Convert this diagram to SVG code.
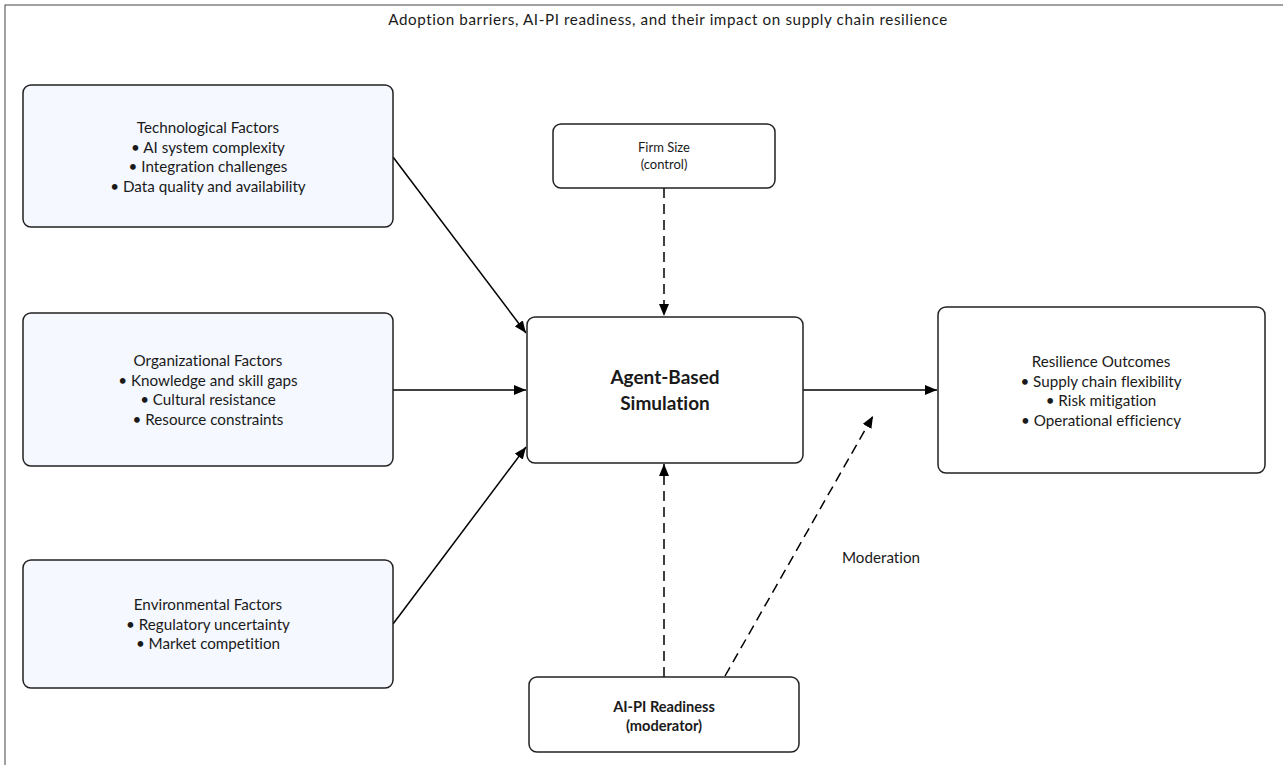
<svg xmlns="http://www.w3.org/2000/svg" width="1283" height="765" viewBox="0 0 1283 765">
<defs>
<style>
.t{font-family:Lato,"Open Sans","Liberation Sans",sans-serif;fill:#1a1a1a;text-anchor:middle;font-variant-ligatures:none;font-feature-settings:"liga" 0}
.n{font-size:15.2px}
.s{font-size:13px}
.b{font-weight:bold}
.box{stroke:#222;stroke-width:1.5;fill:#fff}
.lb{fill:#F5F8FF}
.c{stroke:#000;stroke-width:1.5;fill:none}
.d{stroke-dasharray:10 6}
</style>
<marker id="ah" viewBox="0 0 12 10" refX="12" refY="5" markerWidth="12" markerHeight="10" markerUnits="userSpaceOnUse" orient="auto">
<path d="M0,0 L12,5 L0,10 Z" fill="#000"/>
</marker>
</defs>
<rect x="0" y="0" width="1283" height="765" fill="#fff"/>
<rect x="5" y="5" width="1300" height="800" fill="none" stroke="#444" stroke-width="1"/>
<text class="t n" x="668" y="25" letter-spacing="0.6">Adoption barriers, AI-PI readiness, and their impact on supply chain resilience</text>

<g id="connectors">
<line class="c" x1="393" y1="157" x2="526" y2="333" marker-end="url(#ah)"/>
<line class="c" x1="393" y1="390" x2="526" y2="390" marker-end="url(#ah)"/>
<line class="c" x1="393" y1="624" x2="526" y2="447" marker-end="url(#ah)"/>
<line class="c d" x1="664" y1="188" x2="664" y2="316" marker-end="url(#ah)"/>
<line class="c" x1="803" y1="390" x2="937" y2="390" marker-end="url(#ah)"/>
<line class="c d" x1="664" y1="677" x2="664" y2="464" marker-end="url(#ah)"/>
<line class="c d" x1="725" y1="676" x2="873" y2="416" marker-end="url(#ah)"/>
<text class="t n" x="881" y="563">Moderation</text>
</g>

<g id="tech">
<rect class="box lb" x="23" y="85" width="370" height="142" rx="8"/>
<text class="t n" x="208" y="133">Technological Factors</text>
<text class="t n" x="208" y="152.5">• AI system complexity</text>
<text class="t n" x="208" y="172">• Integration challenges</text>
<text class="t n" x="208" y="191.5">• Data quality and availability</text>
</g>

<g id="org">
<rect class="box lb" x="23" y="313" width="370" height="153" rx="8"/>
<text class="t n" x="208" y="366">Organizational Factors</text>
<text class="t n" x="208" y="385.5">• Knowledge and skill gaps</text>
<text class="t n" x="208" y="405">• Cultural resistance</text>
<text class="t n" x="208" y="424.5">• Resource constraints</text>
</g>

<g id="env">
<rect class="box lb" x="23" y="560" width="370" height="128" rx="8"/>
<text class="t n" x="208" y="610">Environmental Factors</text>
<text class="t n" x="208" y="629.5">• Regulatory uncertainty</text>
<text class="t n" x="208" y="649">• Market competition</text>
</g>

<g id="firm">
<rect class="box" x="553" y="124" width="222" height="64" rx="8"/>
<text class="t s" x="664" y="152">Firm Size</text>
<text class="t s" x="664" y="169">(control)</text>
</g>

<g id="abs">
<rect class="box" x="527" y="317" width="276" height="146" rx="8"/>
<text class="t b" font-size="19" x="665" y="384">Agent-Based</text>
<text class="t b" font-size="19" x="665" y="410">Simulation</text>
</g>

<g id="res">
<rect class="box" x="938" y="307" width="327" height="166" rx="8"/>
<text class="t n" x="1101" y="367">Resilience Outcomes</text>
<text class="t n" x="1101" y="386.5">• Supply chain flexibility</text>
<text class="t n" x="1101" y="406">• Risk mitigation</text>
<text class="t n" x="1101" y="425.5">• Operational efficiency</text>
</g>

<g id="aipi">
<rect class="box" x="529" y="677" width="270" height="75" rx="8"/>
<text class="t b" font-size="14.6" x="664" y="712">AI-PI Readiness</text>
<text class="t b" font-size="14.6" x="664" y="731">(moderator)</text>
</g>
</svg>
